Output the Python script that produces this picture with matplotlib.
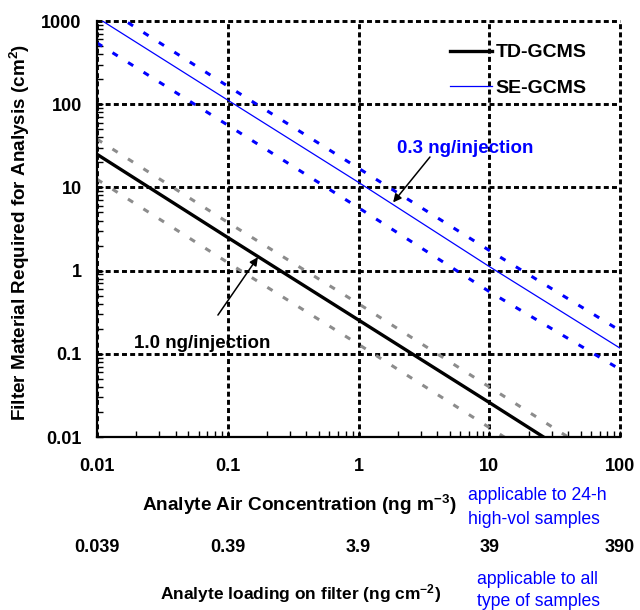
import matplotlib
matplotlib.use("Agg")
import matplotlib.pyplot as plt
from matplotlib.ticker import LogLocator, NullFormatter
from matplotlib.transforms import blended_transform_factory

plt.rcParams['font.family'] = ['Liberation Sans', 'DejaVu Sans']
plt.rcParams['mathtext.fontset'] = 'custom'
plt.rcParams['mathtext.rm'] = 'Liberation Sans:bold'
plt.rcParams['mathtext.bf'] = 'Liberation Sans:bold'
plt.rcParams['mathtext.it'] = 'Liberation Sans:bold'
plt.rcParams['mathtext.default'] = 'rm'

# ---- data ----
conc = [0.01, 0.1, 1, 10, 100]                 # analyte air concentration, ng m-3
td_gcms = [25, 2.5, 0.255, 0.026, 0.0026]      # TD-GCMS, 1.0 ng/injection
td_high = [38, 3.8, 0.40, 0.040, 0.0040]
td_low = [12.5, 1.25, 0.13, 0.013, 0.0013]
se_gcms = [1100, 112, 11.5, 1.12, 0.117]       # SE-GCMS, 0.3 ng/injection
se_high = [1650, 165, 17, 1.75, 0.19]
se_low = [545, 56, 5.7, 0.56, 0.065]

xtick_vals = [0.01, 0.1, 1, 10, 100]
xtick_labels = ['0.01', '0.1', '1', '10', '100']
loading_labels = ['0.039', '0.39', '3.9', '39', '390']
ytick_vals = [0.01, 0.1, 1, 10, 100, 1000]
ytick_labels = ['0.01', '0.1', '1', '10', '100', '1000']

W, H = 640, 610
fig = plt.figure(figsize=(W / 100, H / 100), dpi=100)
ax = fig.add_axes([97 / W, 1 - 437 / H, 523 / W, 416 / H])
ax.set_xscale('log')
ax.set_yscale('log')
ax.set_xlim(0.01, 100)
ax.set_ylim(0.01, 1000)

dash = (0, (2, 4))
grey = '#8c8c8c'
blue = '#0000ff'
ax.plot(conc, td_high, color=grey, lw=2.2, linestyle=dash)
ax.plot(conc, td_low, color=grey, lw=2.2, linestyle=dash)
ax.plot(conc, se_high, color=blue, lw=2.2, linestyle=dash)
ax.plot(conc, se_low, color=blue, lw=2.2, linestyle=dash)
l_td, = ax.plot(conc, td_gcms, color='black', lw=2.4, label='TD-GCMS')
l_se, = ax.plot(conc, se_gcms, color=blue, lw=0.9, label='SE-GCMS')

# ticks
ax.set_xticks(xtick_vals, labels=xtick_labels, fontweight='bold', fontsize=13)
ax.set_yticks(ytick_vals, labels=ytick_labels, fontweight='bold', fontsize=13)
ax.xaxis.set_minor_locator(LogLocator(base=10, subs=range(2, 10), numticks=20))
ax.yaxis.set_minor_locator(LogLocator(base=10, subs=range(2, 10), numticks=20))
ax.xaxis.set_minor_formatter(NullFormatter())
ax.yaxis.set_minor_formatter(NullFormatter())
ax.tick_params(axis='both', which='both', direction='in', length=4, width=1, color='black')
ax.tick_params(axis='x', which='major', pad=15)
ax.tick_params(axis='y', which='major', pad=11)

ax.grid(True, which='major', color='black', linestyle=(0, (1.7, 1.1)), linewidth=2.1)
ax.spines['top'].set_visible(False)
ax.spines['right'].set_visible(False)
ax.spines['left'].set_linewidth(1.6)
ax.spines['bottom'].set_linewidth(1.6)
for gl, v in zip(ax.xaxis.get_gridlines(), xtick_vals):
    if v == 100:
        gl.set_clip_on(False)
for gl, v in zip(ax.yaxis.get_gridlines(), ytick_vals):
    if v == 1000:
        gl.set_clip_on(False)

leg = ax.legend(handles=[l_td, l_se], loc='upper left', bbox_to_anchor=(0.675, 0.945),
                frameon=False, prop={'weight': 'bold', 'size': 14},
                handlelength=2.15, handletextpad=0.2, labelspacing=0.92,
                borderpad=0, borderaxespad=0)

# annotations
ax.text(6.5, 29.5, '0.3 ng/injection', color=blue, fontsize=13.5, fontweight='bold',
        ha='center', va='center')
ax.annotate('', xy=(1.84, 6.6), xytext=(3.52, 23.2),
            arrowprops=dict(arrowstyle='-|>', color='black', lw=1.1, mutation_scale=12,
                            shrinkA=0, shrinkB=0))
ax.text(0.064, 0.133, '1.0 ng/injection', color='black', fontsize=13.5, fontweight='bold',
        ha='center', va='center')
ax.annotate('', xy=(0.170, 1.45), xytext=(0.0841, 0.292),
            arrowprops=dict(arrowstyle='-|>', color='black', lw=1.1, mutation_scale=12,
                            shrinkA=0, shrinkB=0))

# second row of x labels (loading on filter)
trans = blended_transform_factory(ax.transData, fig.transFigure)
for xv, lab in zip(xtick_vals, loading_labels):
    ax.text(xv, 1 - 547 / H, lab, transform=trans, ha='center', va='center',
            fontsize=13, fontweight='bold', clip_on=False)

fig.text(299 / W, 1 - 505 / H, r'Analyte Air Concentration (ng m$^{-3}$)',
         ha='center', va='center', fontsize=13.7, fontweight='bold')
fig.text(301 / W, 1 - 594 / H, r'Analyte loading on filter (ng cm$^{-2}$)',
         ha='center', va='center', fontsize=12.5, fontweight='bold')
fig.text(468 / W, 1 - 496 / H, 'applicable to 24-h', ha='left', va='center',
         fontsize=12.7, color=blue)
fig.text(468 / W, 1 - 519 / H, 'high-vol samples', ha='left', va='center',
         fontsize=12.7, color=blue)
fig.text(477 / W, 1 - 580 / H, 'applicable to all', ha='left', va='center',
         fontsize=12.7, color=blue)
fig.text(477 / W, 1 - 602 / H, 'type of samples', ha='left', va='center',
         fontsize=12.7, color=blue)

fig.text(20 / W, 1 - 232 / H, 'Filter Material Required for Analysis (cm$^{2}$)',
         rotation=90, ha='center', va='center', fontsize=13.6, fontweight='bold')

fig.savefig('out.png', dpi=100)
